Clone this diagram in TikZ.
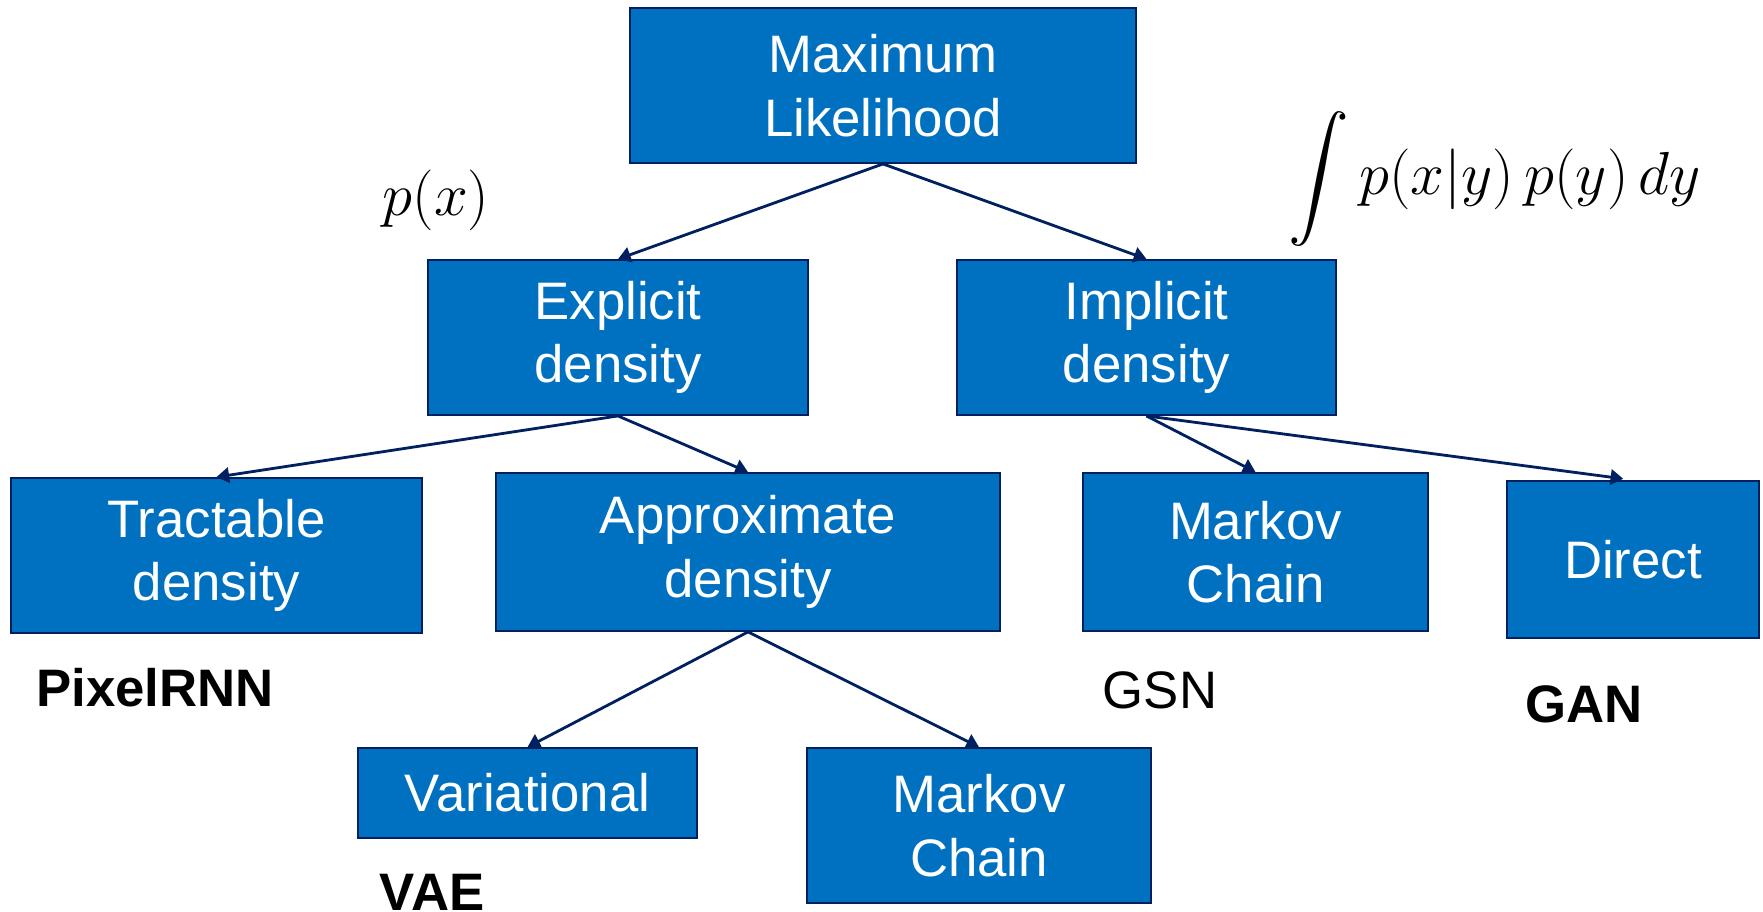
\documentclass[tikz,border=0pt]{standalone}
\usepackage{exscale}
\usepackage{fontspec}
\setmainfont{Liberation Sans}
\usetikzlibrary{arrows.meta}
\definecolor{boxblue}{HTML}{0070C0}
\definecolor{navy}{HTML}{002060}
\tikzset{
  box/.style={draw=navy, line width=0.5pt, fill=boxblue, text=white, align=center,
    inner sep=0pt, font=\fontsize{15}{18}\selectfont},
  link/.style={draw=navy, line width=0.8pt, -{Triangle[length=3.6pt,width=4.4pt]}},
  tag/.style={inner sep=0pt, anchor=base, font=\fontsize{15}{18}\selectfont},
  formula/.style={inner sep=0pt, anchor=base, font=\fontsize{16.5}{20}\selectfont}
}
\begin{document}
\begin{tikzpicture}[x=0.01cm, y=-0.01cm]
\useasboundingbox (0,0) rectangle (1763,912);
% boxes
\node[box, minimum width=5.06cm, minimum height=1.55cm] (ml) at (883,85.5) {Maximum\\Likelihood};
\node[box, minimum width=3.80cm, minimum height=1.55cm] (exp) at (618,337.5) {Explicit\\density};
\node[box, minimum width=3.79cm, minimum height=1.55cm] (imp) at (1146.5,337.5) {Implicit\\density};
\node[box, minimum width=4.11cm, minimum height=1.55cm] (tract) at (216.5,555.5) {Tractable\\density};
\node[box, minimum width=5.04cm, minimum height=1.58cm] (approx) at (748,552) {Approximate\\density};
\node[box, minimum width=3.45cm, minimum height=1.58cm] (mcimp) at (1255.5,552) {Markov\\Chain};
\node[box, minimum width=2.52cm, minimum height=1.57cm] (direct) at (1633,559.5) {Direct};
\node[box, minimum width=3.39cm, minimum height=0.90cm] (var) at (527.5,793) {Variational};
\node[box, minimum width=3.44cm, minimum height=1.55cm] (mcapp) at (979,825.5) {Markov\\Chain};

% links
\draw[link] (ml.south) -- (exp.north);
\draw[link] (ml.south) -- (imp.north);
\draw[link] (exp.south) -- (tract.north);
\draw[link] (exp.south) -- (approx.north);
\draw[link] (imp.south) -- (mcimp.north);
\draw[link, shorten >=2.8pt] (imp.south) -- (direct.north);
\draw[link] (approx.south) -- (var.north);
\draw[link] (approx.south) -- (mcapp.north);

% formulas
\node[formula] (px) at (436,215) {$p(x)$};
\node[formula, anchor=base west] (marg) at (1288,194) {$\displaystyle\int p(x|y)\,p(y)\,dy$};

% models
\node[tag, font=\fontsize{15}{18}\selectfont\bfseries] (pixel) at (155,706) {PixelRNN};
\node[tag] (gsn) at (1160,708) {GSN};
\node[tag, font=\fontsize{15}{18}\selectfont\bfseries] (gan) at (1584,722) {GAN};
\node[tag, font=\fontsize{15}{18}\selectfont\bfseries] (vae) at (432,910) {VAE};
\end{tikzpicture}
\end{document}
